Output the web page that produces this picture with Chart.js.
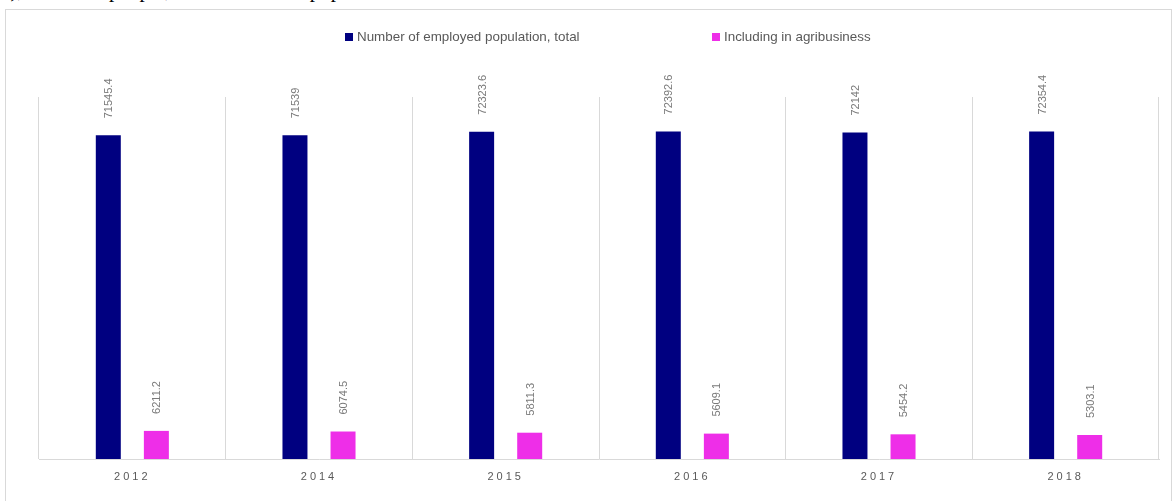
<!DOCTYPE html>
<html>
<head>
<meta charset="utf-8">
<script src="https://cdn.jsdelivr.net/npm/chart.js@4.4.1/dist/chart.umd.min.js"></script>
<style>
  html, body { margin: 0; padding: 0; background: #fff; overflow: hidden; }
  body { width: 1175px; height: 501px; position: relative; }
  #frame { position: absolute; left: 5px; top: 9px; width: 1167px; height: 500px; border: 1px solid #d9d9d9; box-sizing: border-box; }
  #topline { position: absolute; left: 0; top: -22px; font: 21px "Liberation Serif", serif; color: #000; white-space: nowrap; }
  #wrap { position: absolute; left: 0; top: 0; width: 1175px; height: 501px; }
</style>
</head>
<body>
<div id="topline">3), thousand people, the share of the population</div>
<div id="frame"></div>
<div id="wrap"><canvas id="chart"></canvas></div>
<script>
const years = ["2012", "2014", "2015", "2016", "2017", "2018"];
const employedTotal = [71545.4, 71539, 72323.6, 72392.6, 72142, 72354.4];
const agribusiness = [6211.2, 6074.5, 5811.3, 5609.1, 5454.2, 5303.1];
const seriesNames = ["Number of employed population, total", "Including in agribusiness"];
const seriesColors = ["#000080", "#ee2ee8"];

// value labels above each bar, rotated
const barLabels = {
  id: "barLabels",
  beforeDraw(chart) {
    chart.ctx.letterSpacing = "3px";
  },
  beforeDatasetsDraw(chart) {
    chart.ctx.letterSpacing = "0px";
  },
  afterDatasetsDraw(chart) {
    const ctx = chart.ctx;
    ctx.save();
    ctx.font = "11px 'Liberation Sans', Arial, sans-serif";
    ctx.fillStyle = "#7a7a7a";
    ctx.textAlign = "left";
    ctx.textBaseline = "middle";
    chart.data.datasets.forEach((ds, i) => {
      chart.getDatasetMeta(i).data.forEach((bar, j) => {
        ctx.save();
        ctx.translate(bar.x + 1, bar.y - 17);
        ctx.rotate(-Math.PI / 2);
        ctx.fillText(String(ds.data[j]), 0, 0);
        ctx.restore();
      });
    });
    ctx.restore();
  },
  afterDraw(chart) {
    // legend
    const ctx = chart.ctx;
    const items = [{ x: 345 }, { x: 712 }];
    ctx.save();
    ctx.font = "13.4px 'Liberation Sans', Arial, sans-serif";
    ctx.textBaseline = "middle";
    ctx.textAlign = "left";
    items.forEach((it, i) => {
      ctx.fillStyle = seriesColors[i];
      ctx.fillRect(it.x, 33, 8, 8);
      ctx.fillStyle = "#595959";
      ctx.fillText(seriesNames[i], it.x + 12, 37);
    });
    ctx.restore();
  }
};

new Chart(document.getElementById("chart"), {
  type: "bar",
  data: {
    labels: years,
    datasets: [
      { label: seriesNames[0], data: employedTotal, backgroundColor: seriesColors[0] },
      { label: seriesNames[1], data: agribusiness, backgroundColor: seriesColors[1] }
    ]
  },
  options: {
    responsive: true,
    maintainAspectRatio: false,
    animation: false,
    datasets: {
      bar: { categoryPercentage: 0.515, barPercentage: 0.52 }
    },
    layout: { padding: { left: 39, right: 16, top: 97, bottom: 0 } },
    plugins: {
      legend: { display: false },
      tooltip: { enabled: false }
    },
    scales: {
      x: {
        grid: { color: "#d9d9d9", drawTicks: false, offset: true },
        border: { color: "#d9d9d9" },
        ticks: {
          color: "#595959",
          padding: 11,
          font: { family: "'Liberation Sans', Arial, sans-serif", size: 11 }
        },
        afterFit(scale) { scale.height = 42; }
      },
      y: {
        display: false,
        min: 0,
        max: 80000
      }
    }
  },
  plugins: [barLabels]
});
</script>
</body>
</html>
